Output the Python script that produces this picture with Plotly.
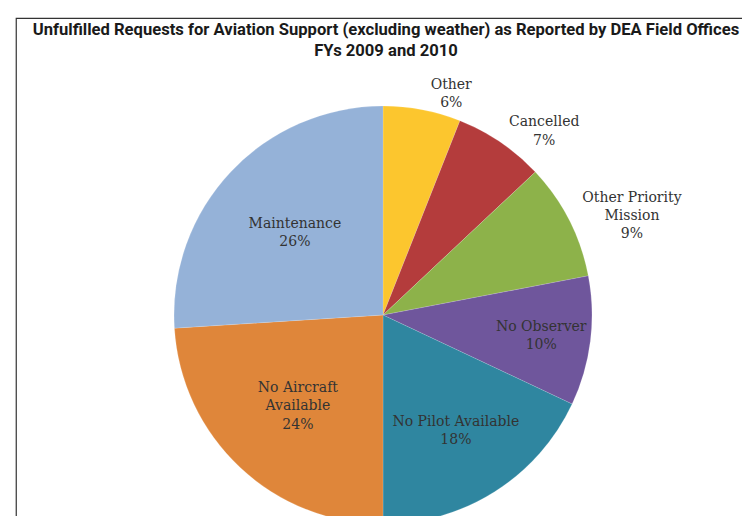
import plotly.graph_objects as go

categories = ["Other", "Cancelled", "Other Priority Mission", "No Observer",
              "No Pilot Available", "No Aircraft Available", "Maintenance"]
display_labels = ["Other", "Cancelled", "Other Priority<br>Mission", "No Observer",
                  "No Pilot Available", "No Aircraft<br>Available", "Maintenance"]
values = [6, 7, 9, 10, 18, 24, 26]
colors = ["#fcc62e", "#b43c3c", "#8db24a", "#6f569c", "#2f86a0", "#df863a", "#95b2d8"]
positions = ["outside", "outside", "outside", "inside", "inside", "inside", "inside"]

fig = go.Figure(go.Pie(
    labels=categories,
    values=values,
    text=display_labels,
    sort=False,
    direction="clockwise",
    rotation=0,
    automargin=False,
    marker=dict(colors=colors, line=dict(color="rgba(255,255,255,0.3)", width=0.5)),
    texttemplate="%{text}<br>%{percent:.0%}",
    textposition=positions,
    insidetextorientation="horizontal",
    textfont=dict(family="DejaVu Serif, Liberation Serif, serif", size=14, color="#333333"),
    showlegend=False,
    hoverinfo="label+percent",
    domain=dict(x=[0.0, 1.0], y=[0.0, 0.81]),
))

fig.update_layout(
    width=750, height=516,
    margin=dict(l=0, r=0, t=0, b=0),
    paper_bgcolor="white",
    title=dict(
        text="<b>Unfulfilled Requests for Aviation Support (excluding weather) as Reported by DEA Field Offices</b><br><b>FYs 2009 and 2010</b>",
        x=0.504, xanchor="center", y=0.948, yanchor="top",
        font=dict(family="Roboto, Liberation Sans, sans-serif", size=16.6, color="#1a1a1a"),
    ),
    shapes=[dict(type="rect", xref="paper", yref="paper",
                 x0=0.011, x1=1.02, y0=-0.02, y1=0.98,
                 line=dict(color="#333333", width=1.2))],
)

fig.write_html("out.html")
